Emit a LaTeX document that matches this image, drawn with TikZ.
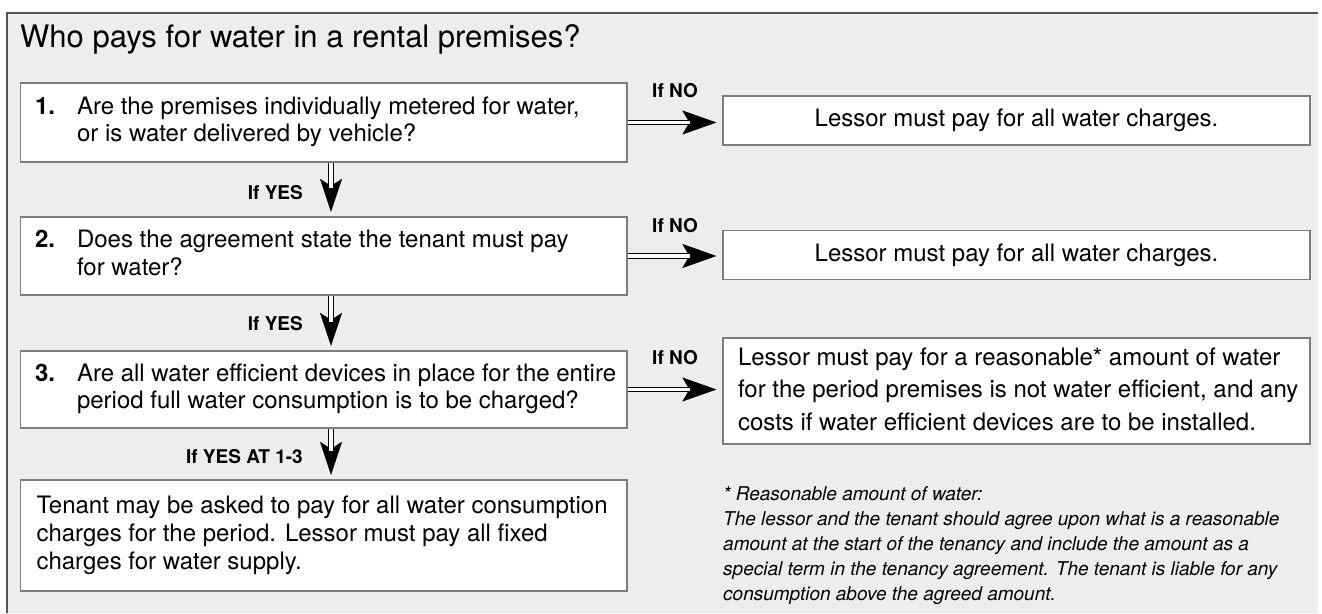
\documentclass[tikz,border=0pt]{standalone}
\usepackage{fontspec}
\setmainfont{TeX Gyre Heros}
\usetikzlibrary{arrows.meta,calc}
\definecolor{bgc}{RGB}{237,237,237}
\definecolor{boxc}{RGB}{125,125,125}
\definecolor{framec}{RGB}{85,85,85}
\newcommand\qlines[2]{\makebox[577.5pt][l]{\makebox[42pt][l]{\bfseries #1}\begin{tabular}[t]{@{}l@{}}#2\end{tabular}}}
\newcommand\plainlines[2]{\makebox[#1][l]{\begin{tabular}{@{}l@{}}#2\end{tabular}}}
\begin{document}
\begin{tikzpicture}[x=1pt,y=-1pt,
  qbox/.style={draw=boxc, line width=1.3pt, fill=white, inner xsep=14.5pt, inner ysep=0pt,
    minimum width=606.5pt, font=\fontsize{24}{27.5}\selectfont},
  rbox/.style={draw=boxc, line width=1.3pt, fill=white, inner xsep=15pt, inner ysep=0pt,
    minimum width=587pt, font=\fontsize{24}{27.5}\selectfont},
  lbl/.style={font=\fontsize{19}{20}\selectfont\bfseries, inner sep=0pt},
  shaft/.style={draw=black, line width=1.1pt, double=white, double distance=3.3pt},
  headh/.style={line width=0.4pt, -{Stealth[length=34pt,width=24pt,inset=7pt]}, shorten >=6pt},
  headv/.style={line width=0.4pt, -{Stealth[length=33pt,width=22pt,inset=7pt]}, shorten >=4.5pt}]
\useasboundingbox (0,0) rectangle (1322,613);
\fill[white] (0,0) rectangle (1322,613);
\fill[bgc] (7,13) rectangle (1318,613);
\draw[framec, line width=1.4pt] (7,613) -- (7,13) -- (1318,13);

\node[anchor=base west, inner sep=0pt, font=\fontsize{31}{36}\selectfont] (title) at (20,47) {Who pays for water in a rental premises?};

% question boxes
\node[qbox, minimum height=79pt] (b1) at (323.75,122.5)
  {\qlines{1.}{Are the premises individually metered for water,\\or is water delivered by vehicle?}};
\node[qbox, minimum height=78pt] (b2) at (323.75,256)
  {\qlines{2.}{Does the agreement state the tenant must pay\\for water?}};
\node[qbox, minimum height=77pt] (b3) at (323.75,389.5)
  {\qlines{3.}{Are all water efficient devices in place for the entire\\period full water consumption is to be charged?}};
\node[qbox, minimum height=111pt, inner xsep=16pt, font=\fontsize{24}{28}\selectfont] (b4) at (323.75,535.5)
  {\plainlines{574.5pt}{Tenant may be asked to pay for all water consumption\\charges for the period. Lessor must pay all fixed\\charges for water supply.}};

% result boxes
\node[rbox, minimum height=49pt] (r1) at (1016.5,120.5) {Lessor must pay for all water charges.};
\node[rbox, minimum height=49pt] (r2) at (1016.5,255) {Lessor must pay for all water charges.};
\node[rbox, minimum height=106pt, font=\fontsize{24}{32.5}\selectfont] (r3) at (1016.5,391)
  {\plainlines{557pt}{Lessor must pay for a reasonable* amount of water\\for the period premises is not water efficient, and any\\costs if water efficient devices are to be installed.}};

% footnote
\node[anchor=north west, inner sep=0pt, font=\fontsize{19}{25}\selectfont\itshape] (fn) at (723,483)
  {\plainlines{600pt}{* Reasonable amount of water:\\The lessor and the tenant should agree upon what is a reasonable\\amount at the start of the tenancy and include the amount as a\\special term in the tenancy agreement. The tenant is liable for any\\consumption above the agreed amount.}};

% right arrows (If NO)
\foreach \b/\r in {b1/r1,b2/r2,b3/r3}{
  \draw[headh] (\b.east) -- (\b.east -| \r.west);
  \draw[shaft] (\b.east) -- ($(\b.east -| \r.west)+(-32,0)$);
}
\node[lbl] (n1) at ($($(b1.east)!0.5!(b1.east -| r1.west)$)+(0,-32)$) {If NO};
\node[lbl] (n2) at ($($(b2.east)!0.5!(b2.east -| r2.west)$)+(0,-30)$) {If NO};
\node[lbl] (n3) at ($($(b3.east)!0.5!(b3.east -| r3.west)$)+(0,-32)$) {If NO};

% down arrows (If YES)
\foreach \a/\b in {b1/b2,b2/b3,b3/b4}{
  \draw[headv] ([xshift=7.25pt]\a.south) -- ([xshift=7.25pt]\b.north);
  \draw[shaft] ([xshift=7.25pt]\a.south) -- ($([xshift=7.25pt]\b.north)+(0,-28)$);
}
\node[lbl, anchor=east] (y1) at ($($(b1.south)!0.5!(b2.north)$)+(-20.75,3)$) {If YES};
\node[lbl, anchor=east] (y2) at ($($(b2.south)!0.5!(b3.north)$)+(-20.75,1)$) {If YES};
\node[lbl, anchor=east] (y3) at ($($(b3.south)!0.5!(b4.north)$)+(-20.75,3)$) {If YES AT 1-3};
\end{tikzpicture}
\end{document}
